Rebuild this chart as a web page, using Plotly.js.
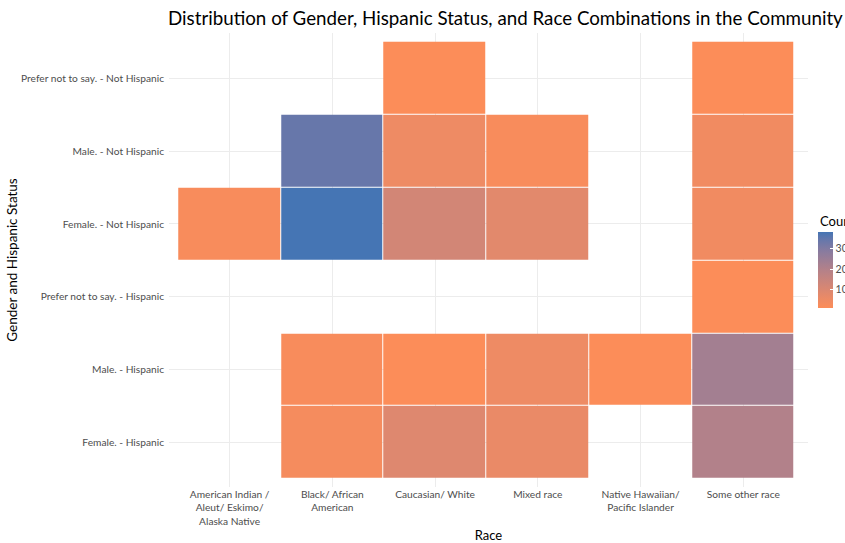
<!DOCTYPE html>
<html>
<head>
<meta charset="utf-8">
<script src="https://cdn.plot.ly/plotly-3.0.1.min.js"></script>
<style>html,body{margin:0;padding:0;background:#fff;}#chart{width:845px;height:543px;}</style>
</head>
<body>
<div id="chart"></div>
<script>
// Categories
const races = [
  "American Indian /<br>Aleut/ Eskimo/<br>Alaska Native",
  "Black/ African<br>American",
  "Caucasian/ White",
  "Mixed race",
  "Native Hawaiian/<br>Pacific Islander",
  "Some other race"
];
const groups = [
  "Female. - Hispanic",
  "Male. - Hispanic",
  "Prefer not to say. - Hispanic",
  "Female. - Not Hispanic",
  "Male. - Not Hispanic",
  "Prefer not to say. - Not Hispanic"
];
// Counts per group (columns follow races); null = no respondents
const femaleHispanic      = [null, 3, 9, 6, null, 20];
const maleHispanic        = [null, 2, 1, 5, 1, 23];
const preferHispanic      = [null, null, null, null, null, 1];
const femaleNotHispanic   = [2, 38, 12, 8, null, 4];
const maleNotHispanic     = [null, 34, 5, 2, null, 4];
const preferNotHispanic   = [null, null, 1, null, null, 1];
const colorbarTicks = [10, 20, 30];

const z = [femaleHispanic, maleHispanic, preferHispanic, femaleNotHispanic, maleNotHispanic, preferNotHispanic];

const W = 845, H = 543;
const font = "Lato, 'Open Sans', sans-serif";

const trace = {
  type: "heatmap",
  x: races,
  y: groups,
  z: z,
  zmin: 1,
  zmax: 38,
  xgap: 1,
  ygap: 1,
  hoverongaps: false,
  colorscale: [
    [0.00, "rgb(252,141,89)"],
    [0.10, "rgb(239,139,99)"],
    [0.25, "rgb(217,135,114)"],
    [0.50, "rgb(180,129,137)"],
    [0.75, "rgb(136,123,159)"],
    [0.90, "rgb(101,119,171)"],
    [1.00, "rgb(69,117,180)"]
  ],
  colorbar: {
    xref: "container", yref: "container",
    x: 818 / W, xanchor: "left",
    y: 0.4884, yanchor: "top",
    thickness: 15,
    thicknessmode: "pixels",
    len: 76, lenmode: "pixels",
    outlinewidth: 0,
    xpad: 0, ypad: 0,
    tickvals: colorbarTicks,
    ticks: "inside",
    ticklen: 3,
    tickcolor: "#ffffff",
    tickfont: {family: font, size: 10.5, color: "#4d4d4d"}
  }
};

const layout = {
  width: W, height: H,
  margin: {l: 169, r: 37, t: 33, b: 56},
  paper_bgcolor: "#fff",
  plot_bgcolor: "#fff",
  font: {family: font},
  title: {
    text: "Distribution of Gender, Hispanic Status, and Race Combinations in the Community",
    font: {family: font, size: 18.75, color: "#000"},
    xref: "container", x: 168 / W, xanchor: "left",
    yref: "container", y: 1 - 18 / H, yanchor: "middle"
  },
  annotations: [{
    text: "Count",
    xref: "paper", yref: "paper",
    x: (818 - 169) / (W - 169 - 37), xanchor: "left",
    y: 1 - (221 - 33) / (H - 33 - 56), yanchor: "middle",
    showarrow: false,
    font: {family: font, size: 13, color: "#000"}
  }],
  xaxis: {
    type: "category",
    range: [-0.59, 5.63],
    showgrid: true, gridcolor: "#ececec", gridwidth: 1,
    zeroline: false, showline: false,
    ticks: "",
    tickfont: {family: font, size: 10.2, color: "#4d4d4d"},
    tickangle: 0,
    title: {text: "Race", font: {family: font, size: 13, color: "#000"}, standoff: 8}
  },
  yaxis: {
    type: "category",
    range: [-0.61, 5.62],
    showgrid: true, gridcolor: "#ececec", gridwidth: 1,
    zeroline: false, showline: false,
    ticks: "",
    ticklabelstandoff: 4,
    tickfont: {family: font, size: 10.2, color: "#4d4d4d"},
    title: {text: "Gender and Hispanic Status", font: {family: font, size: 13.5, color: "#000"}, standoff: 0}
  }
};

Plotly.newPlot("chart", [trace], layout, {displayModeBar: false, staticPlot: true});
</script>
</body>
</html>
